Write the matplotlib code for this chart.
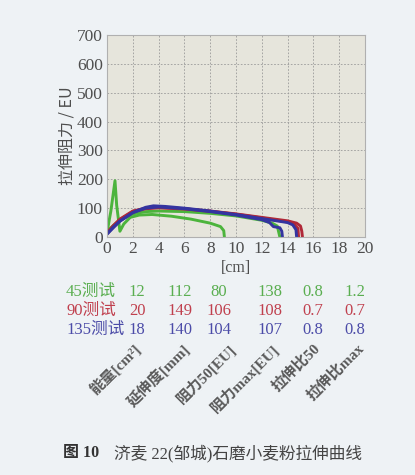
import matplotlib
matplotlib.use('Agg')
from matplotlib import pyplot as plt

plt.rcParams['font.family'] = ['Liberation Serif', 'Noto Sans CJK SC', 'DejaVu Sans']

W, H = 415, 475

# curves: x [cm], y [EU]
green1_x = [0, 0.3, 0.62, 0.75, 1.0, 1.3, 1.8, 2.5, 3.5, 5, 6.5, 8, 8.8, 9.05, 9.1]
green1_y = [15, 90, 195, 110, 20, 45, 68, 76, 78, 72, 62, 48, 36, 22, 0]
green2_x = [0, 0.5, 1, 2, 3, 4, 6, 8, 10, 12, 12.8, 13.2, 13.4]
green2_y = [20, 40, 58, 80, 88, 90, 88, 82, 73, 58, 48, 38, 0]
red1_x = [0, 0.5, 1, 2, 3, 4, 6, 8, 10, 12, 14, 14.7, 15.0, 15.1, 15.15]
red1_y = [15, 40, 62, 90, 100, 103, 98, 90, 80, 68, 56, 48, 38, 20, 0]
red2_x = [0, 1, 2, 3, 4, 6, 8, 10, 12, 14, 14.5, 14.8, 14.85]
red2_y = [15, 60, 88, 98, 101, 97, 89, 79, 66, 52, 44, 30, 0]
blue1_x = [0, 0.5, 1, 2, 3, 3.6, 4.5, 6, 8, 10, 12, 14, 14.4, 14.65, 14.7]
blue1_y = [10, 35, 55, 85, 103, 108, 106, 100, 90, 78, 64, 50, 42, 25, 0]
blue2_x = [0, 1, 2, 3, 4, 6, 8, 10, 12, 12.6, 12.9, 13.4, 13.55, 13.6]
blue2_y = [10, 55, 84, 100, 104, 98, 88, 76, 60, 50, 36, 32, 20, 0]

row_names = ['45测试', '90测试', '135测试']
row_values = [
    ['12', '112', '80', '138', '0.8', '1.2'],
    ['20', '149', '106', '108', '0.7', '0.7'],
    ['18', '140', '104', '107', '0.8', '0.8'],
]
col_names = ['能量[cm²]', '延伸度[mm]', '阻力50[EU]', '阻力max[EU]', '拉伸比50', '拉伸比max']
caption_no = '图 10'
caption = '济麦 22(邹城)石磨小麦粉拉伸曲线'

c_green, c_red, c_blue = '#4cb43c', '#b02838', '#3434a0'
t_green, t_red, t_blue = '#5aae50', '#c0404e', '#4c4ca8'
grey = '#4e4e4e'

fig = plt.figure(figsize=(W / 100, H / 100), dpi=100, facecolor='#eef2f5')
ax = fig.add_axes([107 / W, 1 - 237 / H, 258 / W, 202 / H])
ax.set_facecolor('#e6e5dc')

ax.plot(green1_x, green1_y, color=c_green, lw=2.1)
ax.plot(green2_x, green2_y, color=c_green, lw=2.1)
ax.plot(red1_x, red1_y, color=c_red, lw=2.1)
ax.plot(red2_x, red2_y, color=c_red, lw=2.1)
ax.plot(blue1_x, blue1_y, color=c_blue, lw=2.1)
ax.plot(blue2_x, blue2_y, color=c_blue, lw=2.1)

ax.set_xlim(0, 20)
ax.set_ylim(0, 700)
ax.set_xticks(range(0, 21, 2))
ax.set_yticks(range(0, 701, 100))
ax.grid(True, color='#9a9a9a', ls=(0, (2, 2)), lw=0.6)
ax.tick_params(length=0, labelsize=12.5, colors=grey, pad=3)
for s in ax.spines.values():
    s.set_color('#b0b0b0')
    s.set_linewidth(0.8)
ax.set_xlabel('[cm]', fontsize=11.5, color=grey, labelpad=2)
ax.set_ylabel('拉伸阻力 / EU', fontsize=11.5, color=grey, labelpad=1,
              family=['Noto Sans CJK SC', 'DejaVu Sans'])

# table under the chart
row_y = [292, 311, 330]
row_colors = [t_green, t_red, t_blue]
col_x = [137, 180, 219, 270, 313, 355]
for i, name in enumerate(row_names):
    fig.text(66 / W, 1 - row_y[i] / H, name, color=row_colors[i], fontsize=12,
             ha='left', va='center')
    for j, v in enumerate(row_values[i]):
        fig.text(col_x[j] / W, 1 - row_y[i] / H, v, color=row_colors[i],
                 fontsize=12, ha='center', va='center')

col_end_x = [132, 181, 228, 271, 313, 357]
for j, name in enumerate(col_names):
    fig.text(col_end_x[j] / W, 1 - 341 / H, name, color='#5a5a5a', fontsize=11,
             rotation=45, ha='right', va='top', rotation_mode='anchor',
             fontweight='bold')

fig.text(63 / W, 1 - 453 / H, caption_no, color='#333333', fontsize=11.5,
         ha='left', va='center', fontweight='bold')
fig.text(114 / W, 1 - 453 / H, caption, color='#444444', fontsize=12,
         ha='left', va='center')

fig.savefig('out.png', dpi=100, facecolor=fig.get_facecolor())
